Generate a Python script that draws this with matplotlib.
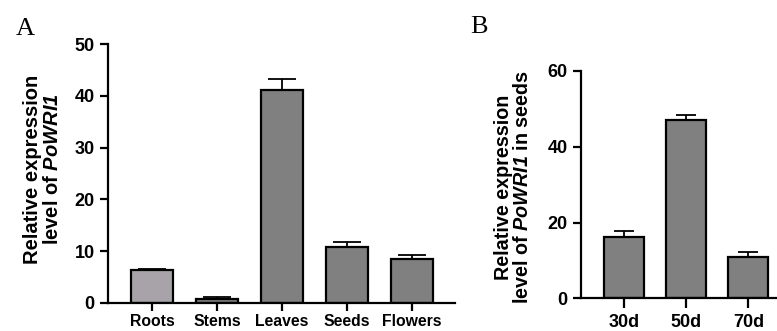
import numpy as np
import matplotlib.pyplot as plt

# Panel A data: tissues
tissues = ["Roots", "Stems", "Leaves", "Seeds", "Flowers"]
tissue_expr = [6.4, 0.8, 41.2, 10.8, 8.5]
tissue_err = [0.2, 0.3, 2.1, 0.9, 0.8]
tissue_colors = ["#a7a3a9", "#808080", "#808080", "#808080", "#808080"]

# Panel B data: seed development stages
stages = ["30d", "50d", "70d"]
stage_expr = [16.3, 47.0, 10.8]
stage_err = [1.5, 1.5, 1.3]

plt.rcParams['font.family'] = ['Liberation Sans', 'DejaVu Sans']
# gene name in bold italic (digits too)
plt.rcParams['mathtext.fontset'] = 'custom'
plt.rcParams['mathtext.it'] = 'Liberation Sans:italic:bold'
plt.rcParams['mathtext.rm'] = 'Liberation Sans:italic:bold'

fig = plt.figure(figsize=(7.77, 3.31), dpi=100)
axA = fig.add_axes([0.139, 0.0846, 0.4466, 0.7824])
axB = fig.add_axes([0.7474, 0.0988, 0.2716, 0.6867])


def style_axis(ax):
    for s in ["top", "right"]:
        ax.spines[s].set_visible(False)
    for s in ["left", "bottom"]:
        ax.spines[s].set_linewidth(1.6)
    ax.tick_params(axis="both", width=1.6, length=6, direction="out")
    ax.tick_params(axis="y", labelsize=13, pad=3.5)
    for lab in ax.get_yticklabels():
        lab.set_fontweight("bold")


# Panel A
xA = np.arange(len(tissues))
axA.bar(xA, tissue_expr, width=0.64, color=tissue_colors, edgecolor="black", linewidth=1.6, zorder=2)
axA.errorbar(xA, tissue_expr, yerr=[np.zeros(len(tissue_err)), tissue_err], fmt="none",
             ecolor="black", elinewidth=1.3, capsize=10, capthick=1.3, zorder=1)
axA.set_xlim(-0.68, 4.66)
axA.set_ylim(0, 50)
axA.set_yticks([0, 10, 20, 30, 40, 50])
axA.set_xticks(xA)
axA.set_xticklabels(tissues, fontsize=11.3, fontweight="bold")
style_axis(axA)
axA.tick_params(axis="x", pad=2)
axA.set_ylabel("Relative expression\nlevel of $PoWRI1$", fontsize=14.5,
               fontweight="bold", linespacing=1.05, va="center")
axA.yaxis.set_label_coords(-0.189, 0.517)

# Panel B
xB = np.arange(len(stages))
axB.bar(xB, stage_expr, width=0.64, color="#808080", edgecolor="black", linewidth=1.6, zorder=2)
axB.errorbar(xB, stage_expr, yerr=[np.zeros(len(stage_err)), stage_err], fmt="none",
             ecolor="black", elinewidth=1.3, capsize=7.5, capthick=1.3, zorder=1)
axB.set_xlim(-0.7, 2.7)
axB.set_ylim(0, 60)
axB.set_yticks([0, 20, 40, 60])
axB.set_xticks(xB)
axB.set_xticklabels(stages, fontsize=13, fontweight="bold")
style_axis(axB)
axB.tick_params(axis="x", length=7, pad=4)
axB.set_ylabel("Relative expression\nlevel of $PoWRI1$ in seeds", fontsize=14.2,
               fontweight="bold", linespacing=1.05, va="center")
axB.yaxis.set_label_coords(-0.321, 0.49)

fig.text(0.032, 0.894, "A", fontsize=19, family="Liberation Serif", ha="center", va="baseline")
fig.text(0.616, 0.900, "B", fontsize=19, family="Liberation Serif", ha="center", va="baseline")

fig.savefig("out.png", dpi=100)
